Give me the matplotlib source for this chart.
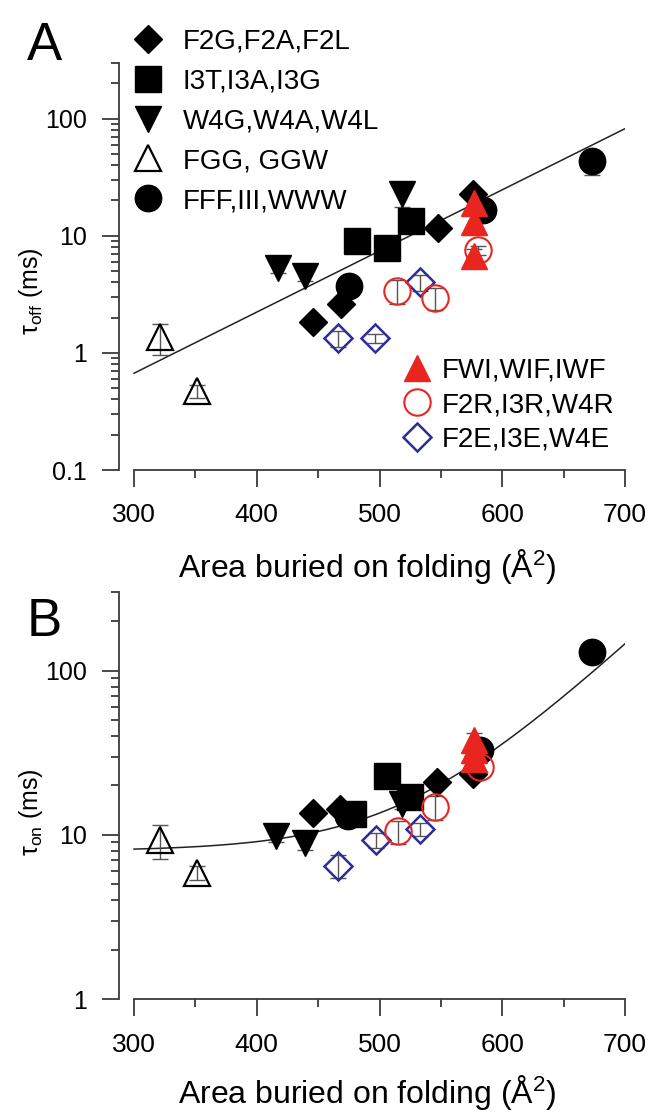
import matplotlib
matplotlib.use('Agg')
import matplotlib.pyplot as plt
from matplotlib.lines import Line2D
import numpy as np

plt.rcParams['font.family'] = ['Liberation Sans', 'DejaVu Sans']
plt.rcParams['mathtext.fontset'] = 'custom'
plt.rcParams['mathtext.rm'] = 'Liberation Sans'
plt.rcParams['mathtext.it'] = 'Liberation Sans:italic'

RED = '#e8261f'
BLUE = '#2e2d99'
AXC = '#3a3a3a'

# ---- panel A : tau_off (ms) ----
a_dia_x = [446, 469, 548, 576]
a_dia_y = [1.85, 2.6, 11.7, 22.5]
a_dia_e = [0.15, 0.2, 0.8, 2.0]
a_sq_x = [482, 506, 526]
a_sq_y = [9.0, 7.9, 13.4]
a_sq_e = [0.6, 0.5, 1.0]
a_dtri_x = [417, 439, 518]
a_dtri_y = [5.3, 4.5, 22.6]
a_dtri_e = [0.5, 0.4, 5.0]
a_otri_x = [321, 351]
a_otri_y = [1.36, 0.47]
a_otri_e = [0.4, 0.06]
a_circ_x = [475, 584, 673]
a_circ_y = [3.7, 16.5, 43]
a_circ_e = [0.3, 1.0, 10]
a_rtri_x = [577, 577, 577]
a_rtri_y = [19.2, 13.0, 6.7]
a_rtri_e = [4.0, 2.0, 1.0]
a_rcirc_x = [514, 545, 580]
a_rcirc_y = [3.4, 2.95, 7.5]
a_rcirc_e = [0.8, 0.65, 0.6]
a_bdia_x = [466.5, 496, 533]
a_bdia_y = [1.33, 1.33, 4.0]
a_bdia_e = [0.2, 0.12, 0.6]

# fit A: log10(tau) = fa0 + fa1 * area
fa0, fa1 = -1.740, 0.00522

# ---- panel B : tau_on (ms) ----
b_dia_x = [446, 468, 547, 576]
b_dia_y = [13.6, 14.4, 21.0, 23.5]
b_dia_e = [1.0, 1.0, 1.5, 2.0]
b_sq_x = [478, 506, 525]
b_sq_y = [13.5, 22.7, 17.0]
b_sq_e = [1.0, 1.5, 1.2]
b_dtri_x = [416, 439, 518]
b_dtri_y = [9.9, 8.9, 15.5]
b_dtri_e = [0.8, 0.8, 1.2]
b_otri_x = [321, 351]
b_otri_y = [9.3, 5.9]
b_otri_e = [2.2, 0.6]
b_circ_x = [474, 582, 673]
b_circ_y = [13.0, 33.0, 130]
b_circ_e = [1.0, 2.0, 8.0]
b_rtri_x = [577, 577, 577]
b_rtri_y = [38, 33, 29]
b_rtri_e = [4.0, 3.0, 3.0]
b_rcirc_x = [515, 545, 582]
b_rcirc_y = [10.5, 14.8, 26.0]
b_rcirc_e = [1.7, 2.5, 2.0]
b_bdia_x = [466.5, 497, 533]
b_bdia_y = [6.5, 9.3, 10.9]
b_bdia_e = [1.0, 1.0, 1.0]

# fit B: tau = fb0 + fb1 * exp(fb2 * (area - 300))
fb0, fb1, fb2 = 7.97, 0.229, 0.016

legend1 = ['F2G,F2A,F2L', 'I3T,I3A,I3G', 'W4G,W4A,W4L', 'FGG, GGW', 'FFF,III,WWW']
legend2 = ['FWI,WIF,IWF', 'F2R,I3R,W4R', 'F2E,I3E,W4E']

MS = 19
MSD = 14
styles = {
    'dia': dict(marker='D', ms=MSD, mfc='black', mec='black', mew=1),
    'sq': dict(marker='s', ms=MS - 0.5, mfc='black', mec='black', mew=1),
    'dtri': dict(marker='v', ms=MS, mfc='black', mec='black', mew=1),
    'otri': dict(marker='^', ms=MS, mfc='none', mec='black', mew=1.6),
    'circ': dict(marker='o', ms=MS, mfc='black', mec='black', mew=1),
    'rtri': dict(marker='^', ms=MS, mfc=RED, mec=RED, mew=1),
    'rcirc': dict(marker='o', ms=MS, mfc='none', mec=RED, mew=1.5),
    'bdia': dict(marker='D', ms=MSD, mfc='none', mec=BLUE, mew=1.8),
}


def draw(ax, x, y, e, key):
    ax.errorbar(x, y, yerr=e, fmt='none', ecolor='#555555', elinewidth=1,
                capsize=6, capthick=1, zorder=2)
    ax.plot(x, y, ls='none', zorder=3, **styles[key])


def style_axes(ax, ylo, yticks, xlab_y):
    ax.set_yscale('log')
    ax.set_ylim(ylo, 300)
    ax.set_xlim(287.8, 700)
    ax.spines['top'].set_visible(False)
    ax.spines['right'].set_visible(False)
    ax.spines['bottom'].set_bounds(300, 700)
    for s in ('left', 'bottom'):
        ax.spines[s].set_color(AXC)
        ax.spines[s].set_linewidth(1.3)
    ax.set_xticks([300, 400, 500, 600, 700])
    ax.set_xticks([350, 450, 550, 650], minor=True)
    ax.set_yticks(yticks)
    ax.set_yticklabels([('%g' % t) for t in yticks])
    ax.tick_params(which='major', length=12, width=1.3, color=AXC)
    ax.tick_params(which='minor', length=6, width=1.3, color=AXC)
    ax.tick_params(axis='x', which='major', labelsize=19, pad=12)
    ax.tick_params(axis='y', which='major', labelsize=18, pad=11)
    ax.set_xlabel(r'Area buried on folding (Å$\mathregular{^2}$)', fontsize=23,
                  va='baseline')
    ax.xaxis.set_label_coords(0.49, xlab_y)


fig = plt.figure(figsize=(6.49, 11.13), dpi=100)
axA = fig.add_axes([0.1834, 0.5777, 0.7797, 0.366])
axB = fig.add_axes([0.1834, 0.1022, 0.7797, 0.3657])

xs = np.linspace(300, 700, 200)

# panel A
axA.plot(xs, 10 ** (fa0 + fa1 * xs), color='#222222', lw=1.1, zorder=1)
draw(axA, a_otri_x, a_otri_y, a_otri_e, 'otri')
draw(axA, a_dtri_x, a_dtri_y, a_dtri_e, 'dtri')
draw(axA, a_sq_x, a_sq_y, a_sq_e, 'sq')
draw(axA, a_circ_x, a_circ_y, a_circ_e, 'circ')
draw(axA, a_dia_x, a_dia_y, a_dia_e, 'dia')
draw(axA, a_bdia_x, a_bdia_y, a_bdia_e, 'bdia')
draw(axA, a_rcirc_x, a_rcirc_y, a_rcirc_e, 'rcirc')
draw(axA, a_rtri_x, a_rtri_y, a_rtri_e, 'rtri')
style_axes(axA, 0.1, [0.1, 1, 10, 100], -0.2627)
axA.set_ylabel(r'$\mathregular{\tau_{off}}$ (ms)', fontsize=18)
axA.yaxis.set_label_coords(-0.146, 0.438)

# panel B
axB.plot(xs, fb0 + fb1 * np.exp(fb2 * (xs - 300)), color='#222222', lw=1.1, zorder=1)
draw(axB, b_otri_x, b_otri_y, b_otri_e, 'otri')
draw(axB, b_dtri_x, b_dtri_y, b_dtri_e, 'dtri')
draw(axB, b_circ_x, b_circ_y, b_circ_e, 'circ')
draw(axB, b_sq_x, b_sq_y, b_sq_e, 'sq')
draw(axB, b_dia_x, b_dia_y, b_dia_e, 'dia')
draw(axB, b_bdia_x, b_bdia_y, b_bdia_e, 'bdia')
draw(axB, b_rcirc_x, b_rcirc_y, b_rcirc_e, 'rcirc')
draw(axB, b_rtri_x, b_rtri_y, b_rtri_e, 'rtri')
style_axes(axB, 1, [1, 10, 100], -0.2548)
axB.set_ylabel(r'$\mathregular{\tau_{on}}$ (ms)', fontsize=18)
axB.yaxis.set_label_coords(-0.146, 0.46)

# legends
h1 = [Line2D([], [], ls='none', **styles[k]) for k in ('dia', 'sq', 'dtri', 'otri', 'circ')]
leg1 = fig.legend(h1, legend1, loc='upper left', bbox_to_anchor=(0.2066, 0.9744),
                  frameon=False, fontsize=20, labelspacing=0.5, handletextpad=0.76,
                  handlelength=1.0, borderaxespad=0, borderpad=0)
h2 = [Line2D([], [], ls='none', **styles[k]) for k in ('rtri', 'rcirc', 'bdia')]
leg2 = axA.legend(h2, legend2, loc='upper left', bbox_to_anchor=(0.5615, 0.276),
                  frameon=False, fontsize=20, labelspacing=0.31, handletextpad=0.38,
                  handlelength=1.0, borderaxespad=0, borderpad=0)

fig.text(0.0416, 1 - 60 / 1113, 'A', fontsize=38, ha='left', va='baseline')
fig.text(0.0416, 1 - 636 / 1113, 'B', fontsize=38, ha='left', va='baseline')

fig.savefig('out.png', dpi=100)
